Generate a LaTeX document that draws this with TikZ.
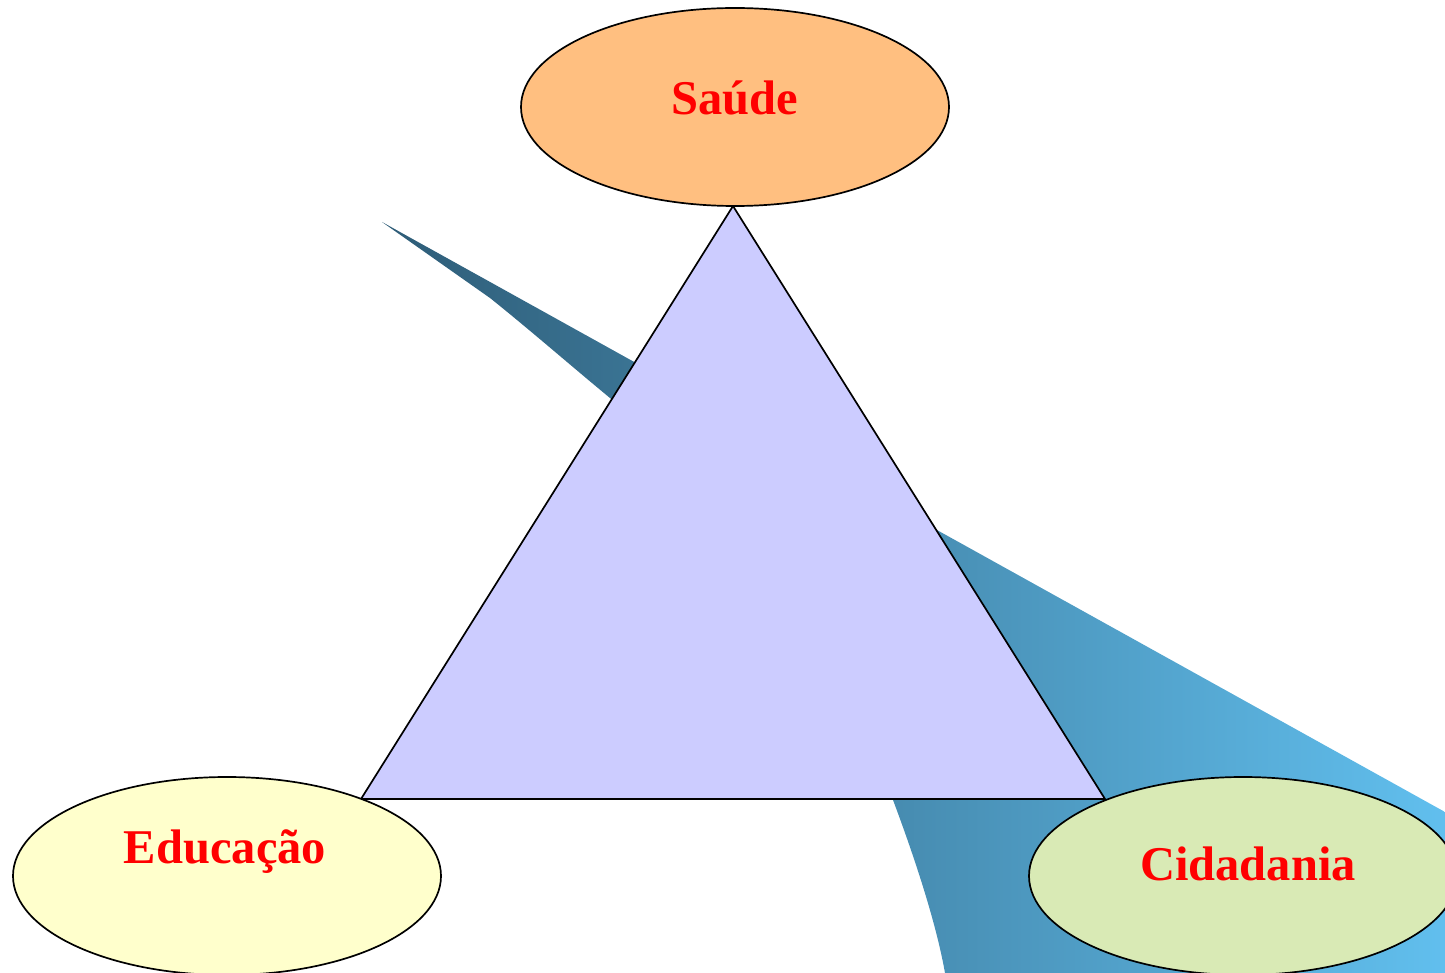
\documentclass[tikz,border=0pt]{standalone}
\usepackage{fontspec}
\setmainfont{Liberation Serif}
\usetikzlibrary{shapes.geometric}
\definecolor{trifill}{HTML}{CCCCFF}
\definecolor{saudefill}{HTML}{FFBF80}
\definecolor{educfill}{HTML}{FFFFCC}
\definecolor{cidafill}{HTML}{D9EAB5}
\definecolor{beamdark}{HTML}{2E5C77}
\definecolor{beamlight}{HTML}{61BFEE}
\tikzset{
  topic/.style={ellipse, draw=black, line width=1.7pt, minimum width=428pt, minimum height=198pt, inner sep=0pt},
  topiclabel/.style={anchor=base, text=red, font=\fontsize{48.5}{52}\selectfont\bfseries, inner sep=0pt},
}
\begin{document}
\begin{tikzpicture}[x=1pt,y=-1pt]
\useasboundingbox (0,0) rectangle (1445,973);
% blue beam behind
\shade[left color=beamdark, right color=beamlight]
  (382,222) -- (1445,812) -- (1445,973) -- (945,973)
  .. controls (936,922) and (914,856) .. (893,800)
  .. controls (850,700) and (700,470) .. (610,398)
  .. controls (570,365) and (530,330) .. (490,298)
  -- cycle;
% triangle
\coordinate (apex) at (733,206);
\coordinate (bl) at (361,799);
\coordinate (br) at (1105,799);
\filldraw[fill=trifill, draw=black, line width=1.7pt, line join=miter] (apex) -- (bl) -- (br) -- cycle;
% ellipses
\node[topic, fill=saudefill] (saude) at (735,107) {};
\node[topic, fill=educfill] (educ) at (227,876) {};
\node[topic, fill=cidafill] (cida) at (1243,876) {};
\node[topiclabel] (saudet) at (735,115) {Saúde};
\node[topiclabel] (euct) at (225,863) {Educação};
\node[topiclabel] (cidat) at (1248,880) {Cidadania};
\end{tikzpicture}
\end{document}
